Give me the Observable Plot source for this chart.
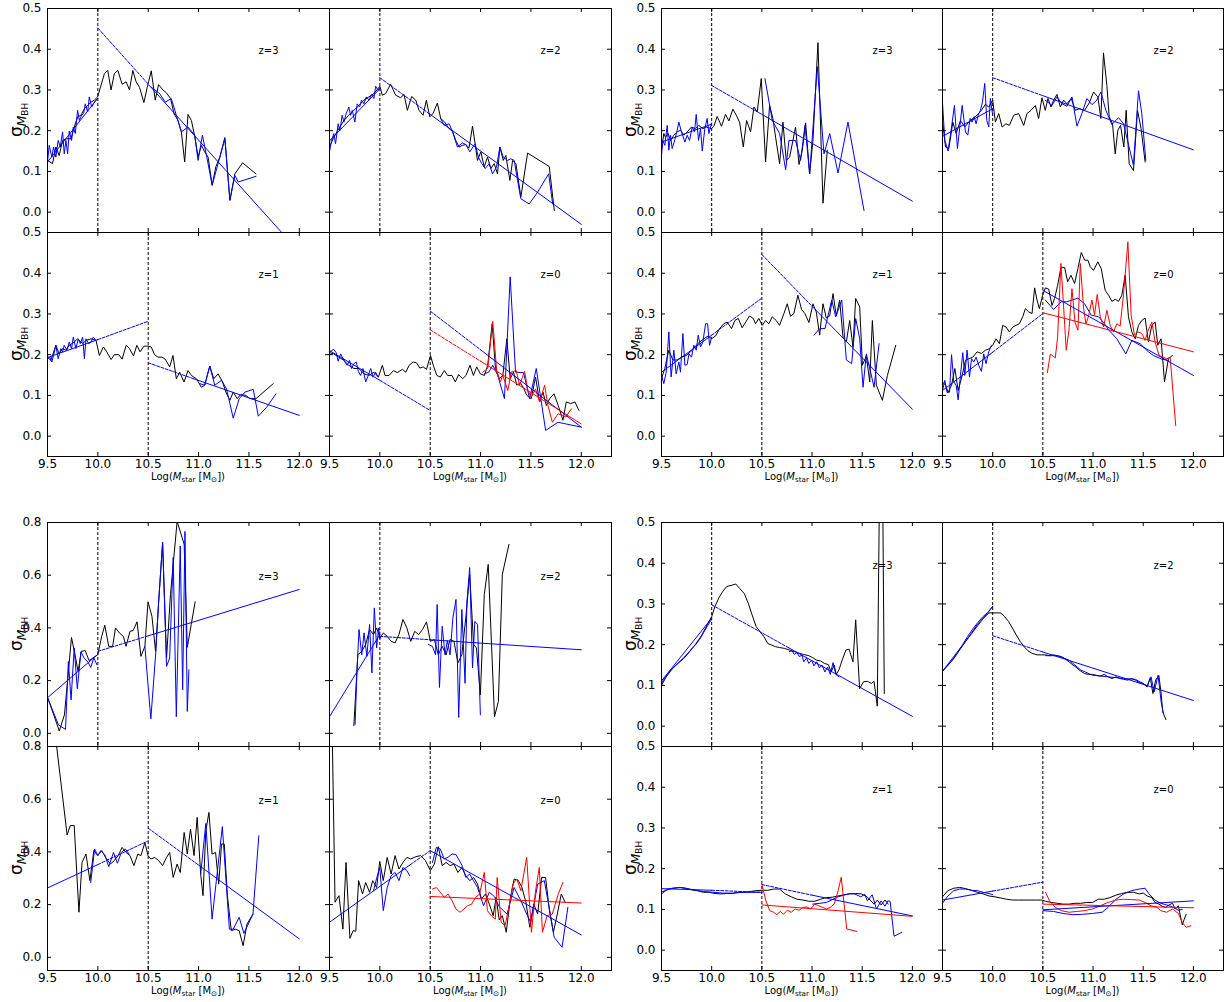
<!DOCTYPE html>
<html><head><meta charset="utf-8">
<script src="https://cdn.jsdelivr.net/npm/d3@7"></script>
<script src="https://cdn.jsdelivr.net/npm/@observablehq/plot@0.6"></script>
<style>
body{margin:0;background:#fff;}
#chart{position:relative;width:1228px;height:1002px;font-family:"DejaVu Sans",sans-serif;overflow:hidden;}
.ylab{position:absolute;transform:translate(-50%,-50%) rotate(-90deg);font-size:17px;white-space:nowrap;line-height:1;}
.ylab sub{font-size:0.72em;vertical-align:-0.35em;line-height:0;}
.ylab sub sub{font-size:0.72em;vertical-align:-0.2em;}
.xlab{position:absolute;transform:translate(-50%,-50%);font-size:10px;white-space:nowrap;line-height:1;}
.xlab sub{font-size:0.72em;vertical-align:-0.3em;line-height:0;}
</style></head>
<body><div id="chart"></div>
<script>
// ---------- tick values ----------
const xTicks = [9.5, 10.0, 10.5, 11.0, 11.5, 12.0];
const yTicksA = [0.0, 0.1, 0.2, 0.3, 0.4, 0.5];
const yTicksB = [0.0, 0.2, 0.4, 0.6, 0.8];
const zLabels = ["z=3", "z=2", "z=1", "z=0"];
const thresholds = [10.0, 10.0, 10.5, 10.5];

// ================= TOP-LEFT GROUP =================
const tlZ3Black = [[9.5,0.127],[9.55,0.119],[9.583,0.16],[9.616,0.139],[9.65,0.176],[9.683,0.18],[9.733,0.18],[9.766,0.209],[9.799,0.234],[9.832,0.238],[9.866,0.254],[9.899,0.262],[9.932,0.27],[9.965,0.275],[9.998,0.283],[10.065,0.34],[10.098,0.348],[10.131,0.30],[10.164,0.34],[10.198,0.348],[10.241,0.314],[10.281,0.32],[10.314,0.30],[10.347,0.348],[10.38,0.32],[10.414,0.306],[10.457,0.269],[10.49,0.306],[10.53,0.347],[10.57,0.275],[10.603,0.313],[10.646,0.30],[10.68,0.293],[10.722,0.279],[10.756,0.242],[10.796,0.225],[10.829,0.197],[10.862,0.123],[10.895,0.24],[10.929,0.225],[10.962,0.186],[10.995,0.135],[11.028,0.164],[11.061,0.148],[11.095,0.135],[11.135,0.066],[11.171,0.111],[11.211,0.135],[11.261,0.183],[11.311,0.029],[11.36,0.094],[11.437,0.121],[11.57,0.094]];
const tlZ3BlueLo = [[9.5,0.123],[9.517,0.164],[9.543,0.135],[9.56,0.16],[9.583,0.135],[9.606,0.176],[9.626,0.16],[9.65,0.197],[9.666,0.143],[9.683,0.176],[9.7,0.143],[9.716,0.199],[9.739,0.176],[9.756,0.209],[9.776,0.193],[9.799,0.25],[9.816,0.225],[9.839,0.238],[9.859,0.242],[9.875,0.266],[9.899,0.246],[9.915,0.283],[9.939,0.258],[9.965,0.27],[9.998,0.279]];
const tlZ3BlueHi = [[10.53,0.307],[10.613,0.291],[10.669,0.27],[10.729,0.279],[10.779,0.238],[10.829,0.197],[10.895,0.209],[10.962,0.189],[10.995,0.127],[11.038,0.189],[11.085,0.131],[11.135,0.066],[11.261,0.18],[11.311,0.029],[11.36,0.09],[11.394,0.074],[11.57,0.088]];
const tlZ3FitSolid = [[[9.5,0.123],[10.0,0.28]], [[10.53,0.306],[12.0,-0.098]]];
const tlZ3FitDashed = [[[10.0,0.452],[10.53,0.306]]];

const tlZ2Black = [[9.5,0.16],[9.543,0.184],[9.593,0.205],[9.643,0.225],[9.692,0.238],[9.742,0.25],[9.792,0.262],[9.842,0.275],[9.891,0.283],[9.941,0.291],[10.0,0.309],[10.024,0.287],[10.057,0.291],[10.107,0.314],[10.157,0.287],[10.206,0.281],[10.24,0.289],[10.273,0.25],[10.316,0.284],[10.356,0.275],[10.389,0.25],[10.429,0.238],[10.462,0.275],[10.495,0.234],[10.528,0.242],[10.571,0.268],[10.604,0.23],[10.644,0.221],[10.687,0.205],[10.72,0.199],[10.754,0.176],[10.787,0.16],[10.82,0.164],[10.853,0.166],[10.886,0.158],[10.92,0.211],[10.946,0.168],[10.969,0.127],[11.003,0.148],[11.036,0.111],[11.069,0.135],[11.102,0.107],[11.135,0.119],[11.168,0.094],[11.192,0.16],[11.225,0.127],[11.251,0.139],[11.291,0.078],[11.318,0.127],[11.351,0.119],[11.4,0.037],[11.467,0.145],[11.682,0.112],[11.732,0.004]];
const tlZ2BlueLo = [[9.5,0.148],[9.52,0.176],[9.543,0.193],[9.56,0.168],[9.586,0.217],[9.603,0.2],[9.626,0.238],[9.643,0.221],[9.666,0.242],[9.692,0.258],[9.709,0.238],[9.726,0.25],[9.752,0.221],[9.775,0.266],[9.799,0.258],[9.818,0.275],[9.842,0.266],[9.865,0.283],[9.891,0.275],[9.918,0.289],[9.941,0.279],[9.958,0.309],[9.984,0.299],[10.0,0.306]];
const tlZ2BlueHi = [[10.604,0.23],[10.638,0.213],[10.687,0.217],[10.72,0.199],[10.77,0.16],[10.82,0.17],[10.853,0.166],[10.893,0.148],[10.946,0.168],[10.979,0.135],[11.012,0.119],[11.046,0.107],[11.085,0.119],[11.119,0.094],[11.158,0.111],[11.192,0.16],[11.225,0.135],[11.268,0.127],[11.301,0.131],[11.334,0.127],[11.367,0.078],[11.4,0.033],[11.483,0.02],[11.566,0.049],[11.676,0.094],[11.716,0.02]];
const tlZ2FitSolid = [[[9.5,0.175],[10.0,0.303]], [[10.5,0.24],[12.0,-0.03]]];
const tlZ2FitDashed = [[[10.0,0.33],[10.5,0.24]]];

const tlZ1Black = [[9.5,0.194],[9.533,0.186],[9.583,0.223],[9.616,0.202],[9.65,0.215],[9.683,0.211],[9.716,0.223],[9.766,0.231],[9.799,0.239],[9.849,0.227],[9.882,0.235],[9.932,0.239],[9.982,0.235],[10.015,0.198],[10.055,0.219],[10.088,0.207],[10.131,0.188],[10.164,0.2],[10.208,0.2],[10.241,0.189],[10.281,0.223],[10.314,0.215],[10.354,0.197],[10.387,0.223],[10.42,0.207],[10.457,0.221],[10.497,0.221],[10.53,0.219],[10.563,0.2],[10.596,0.194],[10.636,0.194],[10.669,0.189],[10.713,0.17],[10.746,0.198],[10.779,0.141],[10.812,0.157],[10.856,0.133],[10.895,0.161],[10.929,0.149],[10.978,0.141],[11.028,0.12],[11.061,0.125],[11.111,0.172],[11.151,0.141],[11.194,0.153],[11.238,0.133],[11.271,0.108],[11.311,0.088],[11.344,0.108],[11.384,0.092],[11.417,0.102],[11.47,0.1],[11.51,0.092],[11.57,0.092],[11.742,0.129]];
const tlZ1BlueLo = [[9.5,0.19],[9.523,0.194],[9.543,0.182],[9.56,0.198],[9.583,0.223],[9.606,0.19],[9.633,0.215],[9.65,0.207],[9.666,0.223],[9.693,0.211],[9.716,0.231],[9.739,0.215],[9.756,0.243],[9.782,0.215],[9.806,0.239],[9.826,0.227],[9.849,0.243],[9.866,0.19],[9.882,0.239],[9.909,0.227],[9.932,0.231],[9.955,0.243],[9.982,0.235]];
const tlZ1BlueHi = [[11.012,0.129],[11.061,0.125],[11.111,0.172],[11.161,0.125],[11.228,0.137],[11.278,0.116],[11.344,0.044],[11.404,0.092],[11.46,0.108],[11.543,0.115],[11.593,0.049],[11.676,0.071],[11.769,0.104]];
const tlZ1FitSolid = [[[9.5,0.193],[10.0,0.237]], [[10.95,0.141],[12.0,0.051]]];
const tlZ1FitDashed = [[[10.0,0.237],[10.5,0.282]], [[10.5,0.18],[10.95,0.141]]];

const tlZ0Black = [[9.5,0.205],[9.543,0.202],[9.593,0.194],[9.643,0.186],[9.692,0.174],[9.743,0.166],[9.792,0.166],[9.842,0.153],[9.892,0.149],[9.942,0.157],[9.985,0.145],[10.025,0.174],[10.051,0.149],[10.091,0.149],[10.135,0.161],[10.174,0.156],[10.224,0.164],[10.257,0.157],[10.291,0.174],[10.331,0.182],[10.364,0.18],[10.397,0.167],[10.43,0.17],[10.463,0.164],[10.503,0.198],[10.53,0.174],[10.566,0.149],[10.6,0.145],[10.64,0.161],[10.673,0.149],[10.716,0.149],[10.749,0.133],[10.782,0.151],[10.822,0.141],[10.855,0.149],[10.895,0.174],[10.929,0.149],[10.962,0.17],[10.998,0.153],[11.038,0.149],[11.071,0.174],[11.115,0.276],[11.148,0.166],[11.188,0.141],[11.221,0.149],[11.261,0.239],[11.294,0.141],[11.327,0.157],[11.36,0.125],[11.394,0.131],[11.427,0.118],[11.46,0.1],[11.503,0.092],[11.546,0.145],[11.586,0.084],[11.62,0.108],[11.653,0.075],[11.686,0.092],[11.729,0.104],[11.771,0.075],[11.818,0.039],[11.851,0.084],[11.894,0.08],[11.937,0.084],[11.977,0.063]];
const tlZ0BlueLo = [[9.5,0.205],[9.52,0.21],[9.543,0.213],[9.566,0.205],[9.586,0.184],[9.61,0.202],[9.626,0.194],[9.653,0.182],[9.676,0.174],[9.699,0.186],[9.719,0.166],[9.743,0.178],[9.766,0.182],[9.786,0.159],[9.809,0.149],[9.832,0.166],[9.859,0.133],[9.885,0.149],[9.909,0.166],[9.932,0.145],[9.958,0.157],[9.982,0.145]];
const tlZ0BlueHi = [[11.038,0.153],[11.081,0.157],[11.121,0.174],[11.171,0.149],[11.237,0.092],[11.294,0.391],[11.347,0.157],[11.427,0.156],[11.487,0.092],[11.553,0.166],[11.646,0.014],[11.769,0.034],[12.002,0.022]];
const tlZ0Red = [[11.022,0.157],[11.071,0.166],[11.121,0.282],[11.161,0.157],[11.194,0.133],[11.221,0.149],[11.271,0.112],[11.304,0.157],[11.354,0.161],[11.387,0.125],[11.437,0.159],[11.47,0.112],[11.503,0.096],[11.546,0.116],[11.586,0.084],[11.636,0.125],[11.669,0.075],[11.713,0.034],[11.769,0.055],[11.812,0.051],[11.846,0.047],[11.902,0.067]];
const tlZ0FitSolid = [[[9.5,0.21],[10.0,0.137]], [[11.0,0.212],[12.0,0.022]]];
const tlZ0FitDashed = [[[10.0,0.137],[10.5,0.063]], [[10.5,0.307],[11.0,0.212]]];
const tlZ0RedFitSolid = [[[11.0,0.184],[12.0,0.03]]];
const tlZ0RedFitDashed = [[[10.5,0.261],[11.0,0.184]]];

// ================= TOP-RIGHT GROUP =================
const trZ3Black = [[9.5,0.152],[9.523,0.193],[9.54,0.184],[9.566,0.193],[9.59,0.176],[9.623,0.189],[9.656,0.197],[9.689,0.201],[9.723,0.189],[9.756,0.197],[9.799,0.209],[9.839,0.205],[9.872,0.213],[9.912,0.205],[9.945,0.209],[9.999,0.205],[10.022,0.211],[10.055,0.235],[10.098,0.211],[10.138,0.24],[10.172,0.224],[10.211,0.253],[10.245,0.238],[10.278,0.221],[10.315,0.16],[10.348,0.225],[10.388,0.197],[10.421,0.258],[10.454,0.246],[10.494,0.328],[10.537,0.123],[10.577,0.262],[10.61,0.23],[10.637,0.184],[10.677,0.119],[10.71,0.221],[10.743,0.127],[10.777,0.135],[10.836,0.209],[10.87,0.117],[10.903,0.152],[10.936,0.219],[10.976,0.094],[11.009,0.176],[11.059,0.416],[11.109,0.022],[11.152,0.152]];
const trZ3BlueLo = [[9.5,0.139],[9.513,0.176],[9.533,0.164],[9.557,0.213],[9.573,0.152],[9.59,0.189],[9.606,0.156],[9.633,0.178],[9.656,0.201],[9.673,0.221],[9.699,0.197],[9.733,0.172],[9.756,0.189],[9.779,0.176],[9.806,0.209],[9.829,0.197],[9.846,0.24],[9.869,0.176],[9.889,0.205],[9.906,0.15],[9.932,0.205],[9.955,0.23],[9.972,0.193],[9.999,0.219]];
const trZ3BlueHi = [[10.531,0.328],[10.604,0.225],[10.677,0.193],[10.737,0.104],[10.77,0.176],[10.836,0.176],[10.886,0.127],[10.93,0.213],[10.976,0.094],[11.053,0.357],[11.119,0.143],[11.176,0.193],[11.259,0.096],[11.358,0.221],[11.518,0.004]];
const trZ3FitSolid = [[[9.5,0.172],[10.0,0.216]], [[10.5,0.24],[12.0,0.027]]];
const trZ3FitDashed = [[[10.0,0.311],[10.5,0.24]]];

const trZ2Black = [[9.5,0.225],[9.53,0.16],[9.563,0.156],[9.603,0.221],[9.636,0.193],[9.679,0.225],[9.722,0.209],[9.762,0.221],[9.802,0.23],[9.845,0.238],[9.888,0.25],[9.928,0.265],[9.961,0.258],[10.0,0.275],[10.027,0.221],[10.06,0.242],[10.094,0.209],[10.133,0.217],[10.166,0.213],[10.21,0.238],[10.259,0.242],[10.309,0.213],[10.342,0.242],[10.382,0.25],[10.425,0.262],[10.458,0.23],[10.491,0.281],[10.524,0.25],[10.551,0.279],[10.581,0.258],[10.607,0.275],[10.641,0.289],[10.674,0.258],[10.707,0.275],[10.74,0.266],[10.783,0.279],[10.823,0.25],[10.863,0.254],[10.916,0.25],[10.962,0.268],[11.005,0.295],[11.048,0.283],[11.078,0.23],[11.104,0.391],[11.138,0.311],[11.161,0.234],[11.194,0.217],[11.221,0.143],[11.247,0.201],[11.274,0.213],[11.307,0.16],[11.33,0.25],[11.36,0.119],[11.403,0.102],[11.443,0.25],[11.479,0.205],[11.519,0.123]];
const trZ2BlueLo = [[9.5,0.27],[9.523,0.176],[9.556,0.15],[9.59,0.209],[9.619,0.262],[9.649,0.156],[9.696,0.262],[9.729,0.197],[9.752,0.189],[9.775,0.23],[9.795,0.221],[9.815,0.234],[9.835,0.217],[9.855,0.238],[9.878,0.25],[9.898,0.27],[9.921,0.316],[9.941,0.225],[9.961,0.209],[9.977,0.279],[10.0,0.238]];
const trZ2BlueHi = [[10.524,0.275],[10.591,0.262],[10.641,0.283],[10.69,0.266],[10.74,0.26],[10.79,0.283],[10.84,0.211],[10.889,0.242],[10.939,0.279],[10.989,0.264],[11.038,0.275],[11.078,0.295],[11.128,0.25],[11.188,0.215],[11.254,0.232],[11.304,0.217],[11.353,0.166],[11.403,0.115],[11.453,0.298],[11.486,0.242],[11.526,0.127]];
const trZ2FitSolid = [[[9.5,0.186],[10.0,0.254]], [[10.5,0.286],[12.0,0.153]]];
const trZ2FitDashed = [[[10.0,0.33],[10.5,0.286]]];

const trZ1Black = [[9.5,0.141],[9.533,0.166],[9.573,0.211],[9.613,0.187],[9.656,0.187],[9.699,0.194],[9.746,0.198],[9.789,0.207],[9.832,0.219],[9.879,0.231],[9.922,0.239],[9.965,0.246],[9.999,0.239],[10.039,0.246],[10.078,0.264],[10.121,0.276],[10.155,0.28],[10.198,0.264],[10.231,0.284],[10.265,0.289],[10.304,0.266],[10.344,0.282],[10.377,0.295],[10.414,0.289],[10.437,0.276],[10.47,0.289],[10.503,0.272],[10.537,0.284],[10.57,0.276],[10.603,0.293],[10.643,0.284],[10.676,0.272],[10.72,0.301],[10.753,0.325],[10.786,0.294],[10.819,0.301],[10.859,0.346],[10.896,0.311],[10.929,0.301],[10.969,0.279],[11.009,0.325],[11.042,0.305],[11.076,0.248],[11.109,0.325],[11.142,0.29],[11.176,0.295],[11.209,0.35],[11.242,0.295],[11.275,0.334],[11.309,0.243],[11.342,0.231],[11.375,0.284],[11.408,0.219],[11.435,0.338],[11.475,0.317],[11.502,0.174],[11.541,0.197],[11.575,0.133],[11.601,0.284],[11.641,0.125],[11.701,0.088],[11.751,0.149],[11.834,0.223]];
const trZ1BlueLo = [[9.5,0.149],[9.523,0.129],[9.547,0.157],[9.573,0.256],[9.596,0.145],[9.623,0.211],[9.646,0.153],[9.673,0.182],[9.689,0.157],[9.713,0.252],[9.733,0.174],[9.756,0.176],[9.773,0.202],[9.799,0.194],[9.822,0.223],[9.846,0.211],[9.866,0.248],[9.889,0.219],[9.912,0.231],[9.939,0.276],[9.959,0.276],[9.979,0.223],[9.999,0.243]];
const trZ1BlueHi = [[11.019,0.248],[11.076,0.264],[11.129,0.264],[11.196,0.334],[11.236,0.293],[11.296,0.334],[11.342,0.187],[11.395,0.178],[11.435,0.289],[11.475,0.239],[11.508,0.12],[11.541,0.202],[11.584,0.157],[11.618,0.12],[11.668,0.227]];
const trZ1FitSolid = [[[9.5,0.157],[10.0,0.248]], [[11.0,0.319],[12.0,0.066]]];
const trZ1FitDashed = [[[10.0,0.248],[10.5,0.339]], [[10.5,0.446],[11.0,0.319]]];

const trZ0Black = [[9.5,0.133],[9.53,0.125],[9.556,0.108],[9.59,0.125],[9.623,0.166],[9.656,0.112],[9.696,0.149],[9.729,0.186],[9.762,0.19],[9.802,0.194],[9.845,0.207],[9.888,0.203],[9.928,0.211],[9.961,0.214],[10.0,0.223],[10.034,0.239],[10.067,0.227],[10.1,0.272],[10.133,0.268],[10.166,0.256],[10.2,0.268],[10.233,0.272],[10.266,0.276],[10.299,0.293],[10.326,0.313],[10.359,0.305],[10.392,0.301],[10.418,0.364],[10.442,0.334],[10.465,0.313],[10.498,0.346],[10.525,0.364],[10.558,0.361],[10.591,0.321],[10.617,0.338],[10.647,0.37],[10.68,0.414],[10.717,0.414],[10.747,0.379],[10.78,0.395],[10.816,0.375],[10.849,0.411],[10.883,0.451],[10.916,0.432],[10.949,0.432],[10.972,0.416],[11.005,0.407],[11.048,0.428],[11.082,0.411],[11.121,0.358],[11.155,0.346],[11.188,0.331],[11.221,0.336],[11.254,0.331],[11.287,0.346],[11.32,0.395],[11.353,0.293],[11.387,0.256],[11.42,0.239],[11.453,0.272],[11.486,0.284],[11.519,0.29],[11.552,0.231],[11.586,0.272],[11.619,0.28],[11.645,0.223],[11.678,0.239],[11.712,0.133],[11.751,0.19],[11.791,0.198]];
const trZ0BlueLo = [[9.5,0.112],[9.523,0.137],[9.546,0.107],[9.57,0.108],[9.59,0.2],[9.613,0.133],[9.636,0.125],[9.656,0.089],[9.679,0.149],[9.702,0.205],[9.722,0.149],[9.745,0.211],[9.769,0.145],[9.789,0.19],[9.812,0.182],[9.835,0.194],[9.861,0.174],[9.888,0.159],[9.911,0.202],[9.934,0.178],[9.961,0.207],[9.987,0.223]];
const trZ0BlueHi = [[10.525,0.334],[10.607,0.311],[10.684,0.33],[10.74,0.33],[10.849,0.339],[10.916,0.325],[10.982,0.297],[11.055,0.293],[11.105,0.279],[11.155,0.261],[11.237,0.239],[11.327,0.202],[11.387,0.235],[11.469,0.227],[11.552,0.207],[11.602,0.198],[11.685,0.189],[11.751,0.186]];
const trZ0Red = [[10.545,0.156],[10.574,0.201],[10.6,0.197],[10.624,0.192],[10.647,0.243],[10.68,0.424],[10.707,0.317],[10.733,0.211],[10.76,0.26],[10.79,0.362],[10.82,0.28],[10.85,0.26],[10.873,0.424],[10.906,0.314],[10.929,0.276],[10.956,0.295],[10.989,0.334],[11.015,0.298],[11.042,0.348],[11.072,0.293],[11.105,0.268],[11.138,0.309],[11.171,0.272],[11.204,0.256],[11.237,0.276],[11.27,0.27],[11.304,0.348],[11.347,0.477],[11.38,0.297],[11.413,0.248],[11.446,0.256],[11.486,0.252],[11.519,0.235],[11.55,0.26],[11.586,0.28],[11.62,0.23],[11.658,0.198],[11.702,0.194],[11.735,0.19],[11.768,0.194],[11.824,0.026]];
const trZ0FitSolid = [[[9.5,0.112],[10.0,0.206]], [[10.5,0.358],[12.0,0.149]]];
const trZ0FitDashed = [[[10.0,0.206],[10.5,0.301]]];
const trZ0RedFitSolid = [[[10.5,0.303],[12.0,0.207]]];

// ================= BOTTOM-LEFT GROUP =================
const blZ3Black = [[9.5,0.136],[9.562,0.07],[9.617,0.009],[9.668,0.07],[9.699,0.197],[9.738,0.364],[9.773,0.298],[9.804,0.235],[9.835,0.311],[9.874,0.314],[9.913,0.276],[9.952,0.286],[9.999,0.298],[10.038,0.368],[10.069,0.41],[10.108,0.33],[10.147,0.33],[10.175,0.4],[10.214,0.381],[10.253,0.368],[10.28,0.33],[10.319,0.387],[10.35,0.39],[10.389,0.423],[10.428,0.292],[10.467,0.33],[10.498,0.499],[10.537,0.444],[10.573,0.311],[10.604,0.502],[10.643,0.724],[10.682,0.286],[10.721,0.527],[10.787,0.804],[10.826,0.756],[10.857,0.717],[10.888,0.326],[10.927,0.413],[10.966,0.499]];
const blZ3BlueLo = [[9.5,0.136],[9.609,0.032],[9.679,0.015],[9.707,0.273],[9.734,0.127],[9.765,0.324],[9.796,0.169],[9.832,0.309],[9.863,0.286],[9.902,0.27],[9.929,0.25],[9.96,0.286],[9.991,0.26]];
const blZ3BlueHi = [[10.467,0.33],[10.526,0.055],[10.576,0.311],[10.604,0.502],[10.643,0.724],[10.682,0.254],[10.713,0.286],[10.748,0.667],[10.779,0.063],[10.818,0.711],[10.842,0.165],[10.865,0.766],[10.888,0.083],[10.904,0.241]];
const blZ3FitSolid = [[[9.5,0.135],[10.0,0.3]], [[10.5,0.37],[12.0,0.546]]];
const blZ3FitDashed = [[[10.0,0.311],[10.5,0.37]]];

const blZ2Black = [[9.742,0.029],[9.781,0.298],[9.82,0.311],[9.859,0.337],[9.898,0.394],[9.937,0.375],[9.968,0.4],[10.003,0.362],[10.034,0.381],[10.073,0.368],[10.112,0.349],[10.151,0.343],[10.19,0.375],[10.229,0.432],[10.268,0.4],[10.307,0.349],[10.346,0.387],[10.385,0.375],[10.424,0.394],[10.463,0.423],[10.502,0.349],[10.541,0.356],[10.58,0.298],[10.619,0.33],[10.658,0.298],[10.697,0.356],[10.736,0.349],[10.775,0.267],[10.814,0.298],[10.853,0.438],[10.892,0.603],[10.931,0.337],[10.959,0.324],[10.998,0.146],[11.037,0.527],[11.076,0.641],[11.138,0.063],[11.177,0.121],[11.216,0.603],[11.282,0.717]];
const blZ2BlueLo = [[9.754,0.034],[9.773,0.235],[9.793,0.394],[9.82,0.298],[9.843,0.381],[9.871,0.292],[9.898,0.413],[9.921,0.229],[9.945,0.476],[9.968,0.324],[9.988,0.4],[10.003,0.359]];
const blZ2BlueHi = [[10.483,0.337],[10.522,0.33],[10.553,0.298],[10.569,0.489],[10.592,0.174],[10.619,0.406],[10.647,0.298],[10.67,0.352],[10.697,0.298],[10.725,0.438],[10.756,0.508],[10.783,0.06],[10.814,0.47],[10.846,0.19],[10.865,0.502],[10.892,0.629],[10.92,0.248],[10.943,0.425],[10.97,0.413],[10.998,0.07]];
const blZ2FitSolid = [[[9.5,0.063],[10.0,0.375]], [[10.5,0.355],[12.0,0.317]]];
const blZ2FitDashed = [[[10.0,0.368],[10.5,0.355]]];

const blZ1Black = [[9.56,0.9],[9.59,0.803],[9.695,0.464],[9.726,0.5],[9.765,0.5],[9.812,0.171],[9.843,0.36],[9.882,0.392],[9.921,0.291],[9.96,0.405],[9.999,0.386],[10.038,0.405],[10.077,0.379],[10.124,0.354],[10.163,0.367],[10.202,0.386],[10.241,0.417],[10.28,0.398],[10.319,0.386],[10.358,0.348],[10.397,0.392],[10.428,0.386],[10.467,0.436],[10.498,0.386],[10.526,0.373],[10.565,0.379],[10.604,0.367],[10.643,0.348],[10.682,0.379],[10.713,0.398],[10.748,0.303],[10.787,0.354],[10.818,0.322],[10.857,0.474],[10.888,0.392],[10.92,0.487],[10.955,0.386],[10.986,0.531],[11.021,0.316],[11.044,0.234],[11.072,0.48],[11.103,0.55],[11.134,0.392],[11.169,0.398],[11.2,0.278],[11.228,0.43],[11.255,0.43],[11.286,0.234],[11.325,0.101],[11.364,0.107],[11.403,0.101],[11.442,0.044],[11.481,0.126],[11.54,0.164]];
const blZ1BlueLo = [[9.929,0.284],[9.968,0.411],[9.999,0.386],[10.03,0.405],[10.069,0.389],[10.108,0.344],[10.155,0.398],[10.194,0.357],[10.233,0.398],[10.272,0.411],[10.311,0.392]];
const blZ1BlueHi = [[11.021,0.316],[11.072,0.508],[11.134,0.145],[11.236,0.496],[11.306,0.107],[11.345,0.107],[11.403,0.152],[11.45,0.091],[11.54,0.164],[11.598,0.461]];
const blZ1FitSolid = [[[9.5,0.263],[10.0,0.352]], [[11.0,0.35],[12.0,0.07]]];
const blZ1FitDashed = [[[10.0,0.352],[10.5,0.442]], [[10.5,0.49],[11.0,0.35]]];

const blZ0Black = [[9.525,0.9],[9.555,0.209],[9.594,0.234],[9.633,0.107],[9.664,0.36],[9.703,0.072],[9.734,0.101],[9.761,0.099],[9.789,0.291],[9.828,0.24],[9.859,0.284],[9.898,0.247],[9.929,0.291],[9.968,0.265],[9.999,0.364],[10.034,0.291],[10.073,0.379],[10.112,0.316],[10.151,0.386],[10.19,0.335],[10.229,0.36],[10.268,0.379],[10.307,0.373],[10.358,0.382],[10.405,0.386],[10.452,0.367],[10.502,0.329],[10.541,0.354],[10.58,0.42],[10.619,0.348],[10.658,0.36],[10.697,0.348],[10.736,0.354],[10.775,0.322],[10.814,0.341],[10.853,0.31],[10.892,0.291],[10.931,0.303],[10.97,0.278],[11.009,0.221],[11.048,0.24],[11.087,0.202],[11.126,0.158],[11.154,0.228],[11.185,0.142],[11.216,0.158],[11.255,0.095],[11.294,0.221],[11.333,0.297],[11.372,0.293],[11.411,0.265],[11.45,0.209],[11.489,0.114],[11.528,0.202],[11.567,0.164],[11.606,0.303],[11.645,0.303],[11.684,0.177],[11.723,0.095],[11.762,0.164],[11.801,0.24],[11.84,0.209]];
const blZ0BlueLo = [[9.937,0.253],[9.968,0.3],[9.999,0.341],[10.034,0.177],[10.073,0.265],[10.112,0.31],[10.151,0.322],[10.19,0.291],[10.229,0.341],[10.268,0.329],[10.296,0.31]];
const blZ0BlueHi = [[10.522,0.36],[10.561,0.417],[10.6,0.411],[10.639,0.373],[10.678,0.38],[10.717,0.392],[10.756,0.39],[10.814,0.35],[10.853,0.303],[10.892,0.316],[10.931,0.29],[10.97,0.265],[11.029,0.196],[11.087,0.247],[11.138,0.23],[11.185,0.192],[11.263,0.164],[11.333,0.265],[11.4,0.215],[11.458,0.164],[11.497,0.133],[11.567,0.278],[11.633,0.291],[11.684,0.183],[11.731,0.076],[11.809,0.038],[11.867,0.19]];
const blZ0Red = [[10.522,0.259],[10.561,0.265],[10.6,0.247],[10.639,0.228],[10.678,0.24],[10.717,0.215],[10.756,0.183],[10.795,0.171],[10.834,0.183],[10.873,0.196],[10.912,0.202],[10.951,0.228],[10.99,0.24],[11.037,0.322],[11.068,0.177],[11.107,0.158],[11.146,0.145],[11.165,0.303],[11.204,0.133],[11.243,0.12],[11.282,0.19],[11.321,0.278],[11.36,0.297],[11.4,0.253],[11.458,0.379],[11.505,0.095],[11.544,0.247],[11.583,0.341],[11.614,0.095],[11.661,0.158],[11.712,0.164],[11.77,0.238],[11.817,0.284]];
const blZ0FitSolid = [[[9.5,0.133],[10.3,0.351]], [[10.5,0.405],[12.0,0.085]]];
const blZ0FitDashed = [[[10.3,0.351],[10.5,0.405]]];
const blZ0RedFitSolid = [[[10.5,0.231],[12.0,0.206]]];

// ================= BOTTOM-RIGHT GROUP =================
const brZ3Black = [[9.5,0.1],[9.547,0.121],[9.605,0.14],[9.664,0.154],[9.722,0.166],[9.781,0.183],[9.839,0.201],[9.898,0.222],[9.956,0.249],[10.0,0.269],[10.033,0.294],[10.072,0.315],[10.111,0.331],[10.15,0.343],[10.201,0.346],[10.24,0.349],[10.279,0.338],[10.326,0.325],[10.364,0.302],[10.403,0.273],[10.442,0.245],[10.481,0.232],[10.52,0.22],[10.559,0.203],[10.598,0.199],[10.637,0.195],[10.676,0.193],[10.723,0.191],[10.773,0.187],[10.824,0.183],[10.871,0.179],[10.917,0.176],[10.968,0.173],[11.007,0.168],[11.046,0.162],[11.085,0.16],[11.124,0.154],[11.163,0.151],[11.19,0.133],[11.221,0.15],[11.241,0.127],[11.268,0.138],[11.3,0.162],[11.338,0.187],[11.369,0.189],[11.408,0.158],[11.435,0.261],[11.474,0.092],[11.513,0.109],[11.552,0.11],[11.591,0.105],[11.618,0.11],[11.65,0.049],[11.69,1.0],[11.72,0.08]];
const brZ3BlueLo = [[9.5,0.104],[9.53,0.118],[9.56,0.128],[9.6,0.14],[9.64,0.149],[9.68,0.158],[9.72,0.168],[9.76,0.178],[9.8,0.19],[9.84,0.2],[9.88,0.213],[9.92,0.23],[9.96,0.247],[10.0,0.262]];
const brZ3BlueHi = [[10.773,0.183],[10.8,0.185],[10.824,0.176],[10.85,0.181],[10.871,0.171],[10.9,0.174],[10.917,0.158],[10.945,0.167],[10.968,0.154],[10.996,0.162],[11.019,0.148],[11.046,0.158],[11.073,0.143],[11.1,0.15],[11.128,0.133],[11.155,0.145],[11.182,0.127],[11.209,0.156],[11.237,0.127],[11.268,0.121]];
const brZ3FitSolid = [[[9.5,0.111],[10.0,0.265]], [[10.77,0.192],[12.0,0.024]]];
const brZ3FitDashed = [[[10.0,0.298],[10.77,0.192]]];

const brZ2Black = [[9.5,0.135],[9.554,0.15],[9.613,0.166],[9.671,0.187],[9.73,0.208],[9.788,0.228],[9.846,0.249],[9.905,0.265],[9.963,0.278],[10.002,0.278],[10.041,0.278],[10.08,0.278],[10.119,0.269],[10.158,0.257],[10.196,0.241],[10.235,0.224],[10.274,0.208],[10.313,0.195],[10.352,0.185],[10.391,0.179],[10.442,0.175],[10.488,0.175],[10.527,0.175],[10.566,0.173],[10.605,0.175],[10.683,0.171],[10.722,0.165],[10.761,0.158],[10.8,0.15],[10.839,0.143],[10.877,0.135],[10.916,0.129],[10.955,0.127],[10.994,0.127],[11.033,0.125],[11.072,0.123],[11.111,0.127],[11.15,0.121],[11.189,0.117],[11.228,0.121],[11.267,0.117],[11.305,0.115],[11.344,0.113],[11.383,0.117],[11.422,0.113],[11.461,0.107],[11.5,0.105],[11.539,0.096],[11.57,0.119],[11.597,0.08],[11.624,0.113],[11.656,0.124],[11.675,0.088],[11.695,0.035],[11.726,0.016]];
const brZ2BlueLo = [[9.5,0.135],[9.55,0.148],[9.6,0.163],[9.65,0.181],[9.7,0.2],[9.75,0.22],[9.8,0.238],[9.85,0.254],[9.9,0.268],[9.95,0.279],[10.0,0.294]];
const brZ2BlueHi = [[10.527,0.173],[10.644,0.173],[10.761,0.162],[10.877,0.138],[10.994,0.125],[11.15,0.121],[11.305,0.117],[11.422,0.115],[11.539,0.099],[11.578,0.121],[11.609,0.084],[11.648,0.125],[11.679,0.059],[11.702,0.03]];
const brZ2FitSolid = [[[9.5,0.135],[10.0,0.294]], [[10.5,0.182],[12.0,0.063]]];
const brZ2FitDashed = [[[10.0,0.222],[10.5,0.182]]];

const brZ1Black = [[9.5,0.142],[9.566,0.15],[9.625,0.152],[9.683,0.154],[9.741,0.152],[9.8,0.148],[9.858,0.146],[9.917,0.142],[9.975,0.142],[10.033,0.139],[10.092,0.138],[10.15,0.139],[10.209,0.139],[10.267,0.142],[10.326,0.142],[10.384,0.144],[10.442,0.146],[10.501,0.147],[10.559,0.147],[10.618,0.15],[10.676,0.15],[10.734,0.138],[10.793,0.131],[10.851,0.125],[10.91,0.123],[10.968,0.12],[11.026,0.12],[11.085,0.125],[11.143,0.129],[11.202,0.13],[11.26,0.133],[11.319,0.136],[11.377,0.138],[11.435,0.139],[11.494,0.138],[11.552,0.13],[11.618,0.113],[11.65,0.123],[11.688,0.111],[11.727,0.123],[11.759,0.113]];
const brZ1BlueLo = [[9.5,0.138],[9.547,0.147],[9.605,0.152],[9.683,0.154],[9.761,0.151],[9.839,0.147],[9.917,0.144],[10.014,0.142],[10.111,0.14],[10.208,0.14],[10.306,0.142],[10.403,0.142],[10.5,0.142]];
const brZ1BlueHi = [[11.007,0.113],[11.143,0.117],[11.26,0.131],[11.377,0.139],[11.424,0.138],[11.486,0.131],[11.525,0.137],[11.552,0.121],[11.599,0.136],[11.642,0.101],[11.688,0.121],[11.727,0.108],[11.755,0.121],[11.778,0.12],[11.817,0.034],[11.895,0.044]];
const brZ1Red = [[10.501,0.16],[10.54,0.121],[10.579,0.097],[10.618,0.093],[10.649,0.087],[10.684,0.095],[10.715,0.088],[10.754,0.098],[10.793,0.093],[10.832,0.101],[10.871,0.098],[10.91,0.105],[10.949,0.106],[10.988,0.101],[11.026,0.113],[11.065,0.109],[11.104,0.105],[11.143,0.101],[11.182,0.105],[11.221,0.113],[11.26,0.146],[11.291,0.179],[11.346,0.052],[11.447,0.046]];
const brZ1FitSolid = [[[9.5,0.151],[10.0,0.147]], [[11.0,0.135],[12.0,0.084]]];
const brZ1FitDashed = [[[10.0,0.147],[10.5,0.142]], [[10.5,0.161],[11.0,0.135]]];
const brZ1RedFitSolid = [[[10.5,0.111],[12.0,0.083]]];

const brZ0Black = [[9.5,0.131],[9.554,0.146],[9.613,0.152],[9.671,0.154],[9.73,0.151],[9.788,0.147],[9.846,0.142],[9.905,0.138],[9.963,0.133],[10.021,0.131],[10.08,0.128],[10.138,0.125],[10.196,0.123],[10.255,0.123],[10.313,0.123],[10.372,0.123],[10.43,0.123],[10.488,0.123],[10.527,0.12],[10.586,0.117],[10.644,0.115],[10.702,0.113],[10.761,0.113],[10.819,0.115],[10.877,0.115],[10.936,0.117],[10.994,0.117],[11.053,0.125],[11.111,0.125],[11.169,0.129],[11.228,0.135],[11.286,0.139],[11.344,0.142],[11.403,0.142],[11.461,0.138],[11.5,0.14],[11.539,0.133],[11.586,0.129],[11.617,0.117],[11.656,0.113],[11.695,0.107],[11.726,0.105],[11.757,0.111],[11.792,0.115],[11.819,0.101],[11.85,0.109],[11.889,0.062],[11.909,0.076],[11.928,0.088]];
const brZ0BlueLo = [[9.5,0.115],[9.554,0.133],[9.613,0.146],[9.671,0.15],[9.73,0.15],[9.788,0.147],[9.846,0.146],[9.905,0.142],[9.963,0.139],[10.002,0.136]];
const brZ0BlueHi = [[10.504,0.097],[10.605,0.095],[10.702,0.09],[10.8,0.087],[10.897,0.088],[10.994,0.09],[11.091,0.093],[11.15,0.105],[11.228,0.125],[11.305,0.138],[11.383,0.146],[11.461,0.15],[11.519,0.152],[11.558,0.138],[11.617,0.123],[11.675,0.115],[11.733,0.111],[11.792,0.106],[11.85,0.098],[11.889,0.1]];
const brZ0Red = [[10.527,0.142],[10.566,0.121],[10.624,0.105],[10.683,0.097],[10.761,0.093],[10.839,0.095],[10.916,0.097],[10.994,0.101],[11.072,0.109],[11.15,0.117],[11.228,0.123],[11.305,0.125],[11.383,0.124],[11.461,0.123],[11.519,0.117],[11.578,0.109],[11.636,0.105],[11.675,0.097],[11.733,0.093],[11.792,0.101],[11.85,0.09],[11.889,0.068],[11.928,0.056],[11.975,0.06]];
const brZ0FitSolid = [[[9.5,0.123],[10.0,0.145]], [[10.5,0.099],[12.0,0.121]]];
const brZ0FitDashed = [[[10.0,0.145],[10.5,0.167]]];
const brZ0RedFitSolid = [[[10.5,0.113],[12.0,0.104]]];

// ---------- panel table (built from the arrays above) ----------
const none = [];
const panelData = {
  tl: [
    {black: tlZ3Black, blue: [tlZ3BlueLo, tlZ3BlueHi], red: none, fs: tlZ3FitSolid, fd: tlZ3FitDashed, rfs: none, rfd: none},
    {black: tlZ2Black, blue: [tlZ2BlueLo, tlZ2BlueHi], red: none, fs: tlZ2FitSolid, fd: tlZ2FitDashed, rfs: none, rfd: none},
    {black: tlZ1Black, blue: [tlZ1BlueLo, tlZ1BlueHi], red: none, fs: tlZ1FitSolid, fd: tlZ1FitDashed, rfs: none, rfd: none},
    {black: tlZ0Black, blue: [tlZ0BlueLo, tlZ0BlueHi], red: [tlZ0Red], fs: tlZ0FitSolid, fd: tlZ0FitDashed, rfs: tlZ0RedFitSolid, rfd: tlZ0RedFitDashed}
  ],
  tr: [
    {black: trZ3Black, blue: [trZ3BlueLo, trZ3BlueHi], red: none, fs: trZ3FitSolid, fd: trZ3FitDashed, rfs: none, rfd: none},
    {black: trZ2Black, blue: [trZ2BlueLo, trZ2BlueHi], red: none, fs: trZ2FitSolid, fd: trZ2FitDashed, rfs: none, rfd: none},
    {black: trZ1Black, blue: [trZ1BlueLo, trZ1BlueHi], red: none, fs: trZ1FitSolid, fd: trZ1FitDashed, rfs: none, rfd: none},
    {black: trZ0Black, blue: [trZ0BlueLo, trZ0BlueHi], red: [trZ0Red], fs: trZ0FitSolid, fd: trZ0FitDashed, rfs: trZ0RedFitSolid, rfd: none}
  ],
  bl: [
    {black: blZ3Black, blue: [blZ3BlueLo, blZ3BlueHi], red: none, fs: blZ3FitSolid, fd: blZ3FitDashed, rfs: none, rfd: none},
    {black: blZ2Black, blue: [blZ2BlueLo, blZ2BlueHi], red: none, fs: blZ2FitSolid, fd: blZ2FitDashed, rfs: none, rfd: none},
    {black: blZ1Black, blue: [blZ1BlueLo, blZ1BlueHi], red: none, fs: blZ1FitSolid, fd: blZ1FitDashed, rfs: none, rfd: none},
    {black: blZ0Black, blue: [blZ0BlueLo, blZ0BlueHi], red: [blZ0Red], fs: blZ0FitSolid, fd: blZ0FitDashed, rfs: blZ0RedFitSolid, rfd: none}
  ],
  br: [
    {black: brZ3Black, blue: [brZ3BlueLo, brZ3BlueHi], red: none, fs: brZ3FitSolid, fd: brZ3FitDashed, rfs: none, rfd: none},
    {black: brZ2Black, blue: [brZ2BlueLo, brZ2BlueHi], red: none, fs: brZ2FitSolid, fd: brZ2FitDashed, rfs: none, rfd: none},
    {black: brZ1Black, blue: [brZ1BlueLo, brZ1BlueHi], red: [brZ1Red], fs: brZ1FitSolid, fd: brZ1FitDashed, rfs: brZ1RedFitSolid, rfd: none},
    {black: brZ0Black, blue: [brZ0BlueLo, brZ0BlueHi], red: [brZ0Red], fs: brZ0FitSolid, fd: brZ0FitDashed, rfs: brZ0RedFitSolid, rfd: none}
  ]
};

// ---------- layout (pixels) ----------
const layout = {
  tl: {lefts: [47, 329], tops: [8, 232], w: 282, h: 224, yDomain: [-0.05, 0.5], yTicks: yTicksA, labelDy: 38},
  tr: {lefts: [661, 942], tops: [8, 232], w: 281, h: 224, yDomain: [-0.05, 0.5], yTicks: yTicksA, labelDy: 38},
  bl: {lefts: [47, 329], tops: [522, 746], w: 282, h: 224, yDomain: [-0.05, 0.8], yTicks: yTicksB, labelDy: 50},
  br: {lefts: [661, 942], tops: [522, 746], w: 281, h: 224, yDomain: [-0.05, 0.5], yTicks: yTicksA, labelDy: 39}
};

const chart = document.getElementById("chart");
const fmt = d3.format(".1f");
const BLUE = "#0000ff", RED = "#ff0000";

function lineMark(data, stroke, dash) {
  return Plot.line(data, {x: d => d[0], y: d => d[1], stroke, strokeWidth: 1, strokeDasharray: dash, clip: true});
}

for (const g of ["tl", "tr", "bl", "br"]) {
  const L = layout[g];
  panelData[g].forEach((p, i) => {
    const row = Math.floor(i / 2), col = i % 2;
    const W = L.w, H = L.h;
    const marks = [
      Plot.ruleX([thresholds[i]], {x: d => d, stroke: "black", strokeWidth: 1, strokeDasharray: "3,2"}),
      lineMark(p.black, "black"),
      ...p.blue.map(s => lineMark(s, BLUE)),
      ...p.red.map(s => lineMark(s, RED)),
      ...p.fs.map(s => lineMark(s, BLUE)),
      ...p.fd.map(s => lineMark(s, BLUE, "3,1.5")),
      ...p.rfs.map(s => lineMark(s, RED)),
      ...p.rfd.map(s => lineMark(s, RED, "3,1.5")),
      Plot.frame({stroke: "black", strokeWidth: 1}),
      Plot.tickY(L.yTicks, {y: d => d, insetRight: W - 4, stroke: "black"}),
      Plot.tickY(L.yTicks, {y: d => d, insetLeft: W - 4, stroke: "black"}),
      Plot.tickX(xTicks, {x: d => d, insetTop: H - 4, stroke: "black"}),
      Plot.tickX(xTicks, {x: d => d, insetBottom: H - 4, stroke: "black"}),
      Plot.text([zLabels[i]], {frameAnchor: "top-left", dx: 211, dy: L.labelDy, fontSize: 10, fill: "black"})
    ];
    if (col === 0) marks.push(Plot.axisY(L.yTicks, {anchor: "left", tickSize: 0, tickPadding: 6, tickFormat: fmt, label: null, fontSize: 12}));
    if (row === 1) marks.push(Plot.axisX(xTicks, {anchor: "bottom", tickSize: 0, tickPadding: 3, tickFormat: fmt, label: null, fontSize: 12}));
    const svg = Plot.plot({
      width: W, height: H, margin: 0,
      x: {domain: [9.5, 12.3], axis: null},
      y: {domain: L.yDomain, axis: null},
      style: {overflow: "visible", background: "transparent", fontFamily: "DejaVu Sans, sans-serif", fontSize: "12px", color: "black"},
      marks
    });
    svg.style.position = "absolute";
    svg.style.left = L.lefts[col] + "px";
    svg.style.top = L.tops[row] + "px";
    svg.style.maxWidth = "none";
    chart.appendChild(svg);

    if (col === 0) {
      const yl = document.createElement("div");
      yl.className = "ylab";
      yl.innerHTML = "σ<sub><i>M</i><sub>BH</sub></sub>";
      yl.style.left = (L.lefts[0] - 30) + "px";
      yl.style.top = (L.tops[row] + H / 2) + "px";
      chart.appendChild(yl);
    }
    if (row === 1) {
      const xl = document.createElement("div");
      xl.className = "xlab";
      xl.innerHTML = "Log(<i>M</i><sub>star</sub> [M<sub>⊙</sub>])";
      xl.style.left = (L.lefts[col] + W / 2) + "px";
      xl.style.top = (L.tops[1] + H + 21) + "px";
      chart.appendChild(xl);
    }
  });
}
</script>
</body></html>
